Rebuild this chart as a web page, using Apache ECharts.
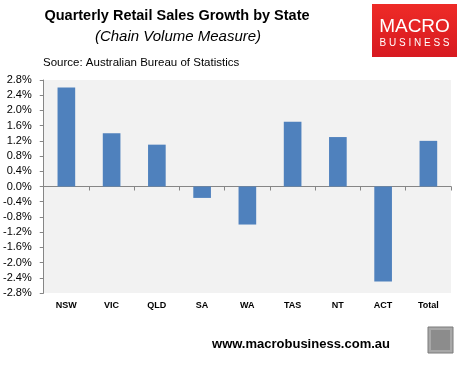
<!DOCTYPE html>
<html><head><meta charset="utf-8">
<script src="https://cdn.jsdelivr.net/npm/echarts@6/dist/echarts.min.js"></script>
<style>html,body{margin:0;padding:0;background:#fff}#c{width:464px;height:365px}</style>
</head><body><div id="c"></div>
<script>
var categories = ['NSW','VIC','QLD','SA','WA','TAS','NT','ACT','Total'];
var growth = [2.6, 1.4, 1.1, -0.3, -1.0, 1.7, 1.3, -2.5, 1.2];
var yMin = -2.8, yMax = 2.8, yStep = 0.4;

var chart = echarts.init(document.getElementById('c'));
var F = 'Liberation Sans, Arial, sans-serif';
chart.setOption({
  animation: false,
  title: [
    {text: 'Quarterly Retail Sales Growth by State', left: 172, top: 3, textAlign: 'center',
     textStyle: {fontFamily: F, fontSize: 14.5, fontWeight: 'bold', color: '#000'}},
    {text: '(Chain Volume Measure)', left: 173, top: 24, textAlign: 'center',
     textStyle: {fontFamily: F, fontSize: 15, fontStyle: 'italic', fontWeight: 'normal', color: '#000'}},
    {text: 'Source: Australian Bureau of Statistics', left: 38, top: 52,
     textStyle: {fontFamily: F, fontSize: 11.5, fontWeight: 'normal', color: '#000'}},
    {text: 'www.macrobusiness.com.au', left: 296, top: 333, textAlign: 'center',
     textStyle: {fontFamily: F, fontSize: 13, fontWeight: 'bold', color: '#000'}}
  ],
  graphic: [
    {type: 'rect', shape: {x: 372, y: 4, width: 85, height: 53},
     style: {fill: {type: 'linear', x: 0, y: 0, x2: 0, y2: 1, colorStops: [{offset: 0, color: '#ee2b27'}, {offset: 1, color: '#d71920'}]}}},
    {type: 'text', x: 414.5, y: 27, style: {text: 'MACRO', fill: '#fff', font: '19px ' + F, textAlign: 'center', textVerticalAlign: 'middle'}},
    {type: 'text', x: 414.5, y: 43, style: {text: 'B U S I N E S S', fill: '#fff', font: '10px ' + F, textAlign: 'center', textVerticalAlign: 'middle'}},
    {type: 'rect', shape: {x: 428, y: 327, width: 25, height: 26},
     style: {fill: '#a8a8a8', stroke: '#7a7a7a', lineWidth: 1}},
    {type: 'rect', shape: {x: 431, y: 330, width: 19, height: 20},
     style: {fill: '#8c8c8c'}}
  ],
  grid: {left: 43, right: 13, top: 80, bottom: 72, show: true, backgroundColor: '#f2f2f2', borderWidth: 0},
  xAxis: [
    {type: 'category', data: categories, position: 'bottom',
     axisLine: {show: false, onZero: false}, axisTick: {show: false},
     axisLabel: {fontFamily: F, fontSize: 9, fontWeight: 'bold', color: '#000', margin: 8}},
    {type: 'category', data: categories, position: 'bottom',
     axisLine: {show: true, onZero: true, lineStyle: {color: '#868686', width: 1}},
     axisTick: {show: true, length: 4, lineStyle: {color: '#868686'}},
     axisLabel: {show: false}}
  ],
  yAxis: {type: 'value', min: yMin, max: yMax, interval: yStep,
    axisLine: {show: true, lineStyle: {color: '#868686'}},
    axisTick: {show: true, length: 4, lineStyle: {color: '#868686'}},
    splitLine: {show: false},
    axisLabel: {fontFamily: F, fontSize: 11, color: '#000', margin: 12,
      formatter: function (v) { return (Math.round(v * 10) / 10).toFixed(1) + '%'; }}
  },
  series: [{type: 'bar', data: growth, xAxisIndex: 0, barWidth: '39%',
    itemStyle: {color: '#4f81bd'}}]
});
</script></body></html>
